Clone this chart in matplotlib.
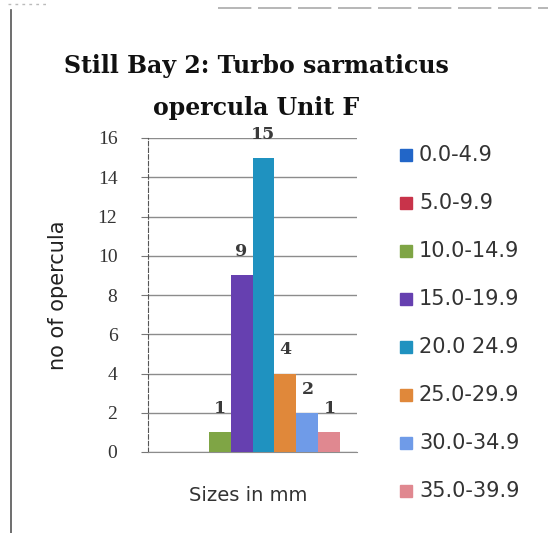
import matplotlib.pyplot as plt
from matplotlib.lines import Line2D

# Size classes (mm) and opercula counts for Unit F
size_classes = ['0.0-4.9', '5.0-9.9', '10.0-14.9', '15.0-19.9',
                '20.0 24.9', '25.0-29.9', '30.0-34.9', '35.0-39.9']
counts = [0, 0, 1, 9, 15, 4, 2, 1]
bar_colors = ['#2266C8', '#C8334A', '#7FA545', '#6640B0',
              '#1F92C0', '#E0883A', '#6F9BE8', '#E08890']

fig = plt.figure(figsize=(5.48, 5.33), dpi=100)
ax = fig.add_axes([148 / 548, 1 - 452 / 533, 209 / 548, 314 / 533])

n = len(counts)
group = 0.842
w = group / n
for i, (lab, v, c) in enumerate(zip(size_classes, counts, bar_colors)):
    x = -group / 2 + w * (i + 0.5)
    ax.bar(x, v, width=w, color=c, label=lab, zorder=3)
    if v > 0:
        ax.text(x, v + 1.2, str(v), ha='center', va='center',
                fontsize=12.5, color='#3a3a3a', family='DejaVu Serif',
                fontweight='bold', zorder=4)

ax.set_xlim(-0.5, 0.5)
ax.set_ylim(0, 16)
ax.set_yticks(range(0, 17, 2))
ax.set_xticks([])
ax.grid(axis='y', color='#8c8c8c', lw=1, zorder=0)
for s in ['top', 'right']:
    ax.spines[s].set_visible(False)
ax.spines['left'].set_color('#555555')
ax.spines['left'].set_linestyle((0, (4, 2)))
ax.spines['bottom'].set_color('#8c8c8c')
ax.tick_params(axis='y', length=5, color='#777777', labelsize=14,
               labelcolor='#333333', pad=17)
for t in ax.get_yticklabels():
    t.set_family('Liberation Serif')

ax.set_ylabel('no of opercula', fontsize=15, color='#222222',
              family='DejaVu Sans')
ax.yaxis.set_label_coords(-80 / 209, 0.5)
ax.set_xlabel('Sizes in mm', fontsize=14, color='#333333',
              family='DejaVu Sans')
ax.xaxis.set_label_coords(0.48, -34 / 314)

title_font = dict(ha='center', va='center', fontsize=17, fontweight='bold',
                  family='DejaVu Serif', color='#111111')
fig.text(256 / 548, 1 - 66 / 533, 'Still Bay 2: Turbo sarmaticus', **title_font)
fig.text(256 / 548, 1 - 108 / 533, 'opercula Unit F', **title_font)

# legend entries, one per size class
for i, (lab, c) in enumerate(zip(size_classes, bar_colors)):
    yy = 1 - (155 + 48 * i) / 533
    fig.patches.append(plt.Rectangle((400 / 548, yy - 6 / 533), 12 / 548, 12 / 533,
                                     transform=fig.transFigure, color=c))
    fig.text(419 / 548, yy, lab, ha='left', va='center', fontsize=15,
             family='DejaVu Sans', color='#333333')

# page frame lines
fig.add_artist(Line2D([11 / 548, 11 / 548], [0, 1 - 10 / 533],
                      transform=fig.transFigure, color='#555555', lw=1.2))
fig.add_artist(Line2D([218 / 548, 1], [1 - 8 / 533, 1 - 8 / 533],
                      transform=fig.transFigure, color='#aaaaaa', lw=1.2,
                      linestyle=(0, (20, 4))))
fig.add_artist(Line2D([8 / 548, 48 / 548], [1 - 4 / 533, 1 - 4 / 533],
                      transform=fig.transFigure, color='#bbbbbb', lw=1,
                      linestyle=(0, (2, 3))))

fig.savefig('out.png', dpi=100)
